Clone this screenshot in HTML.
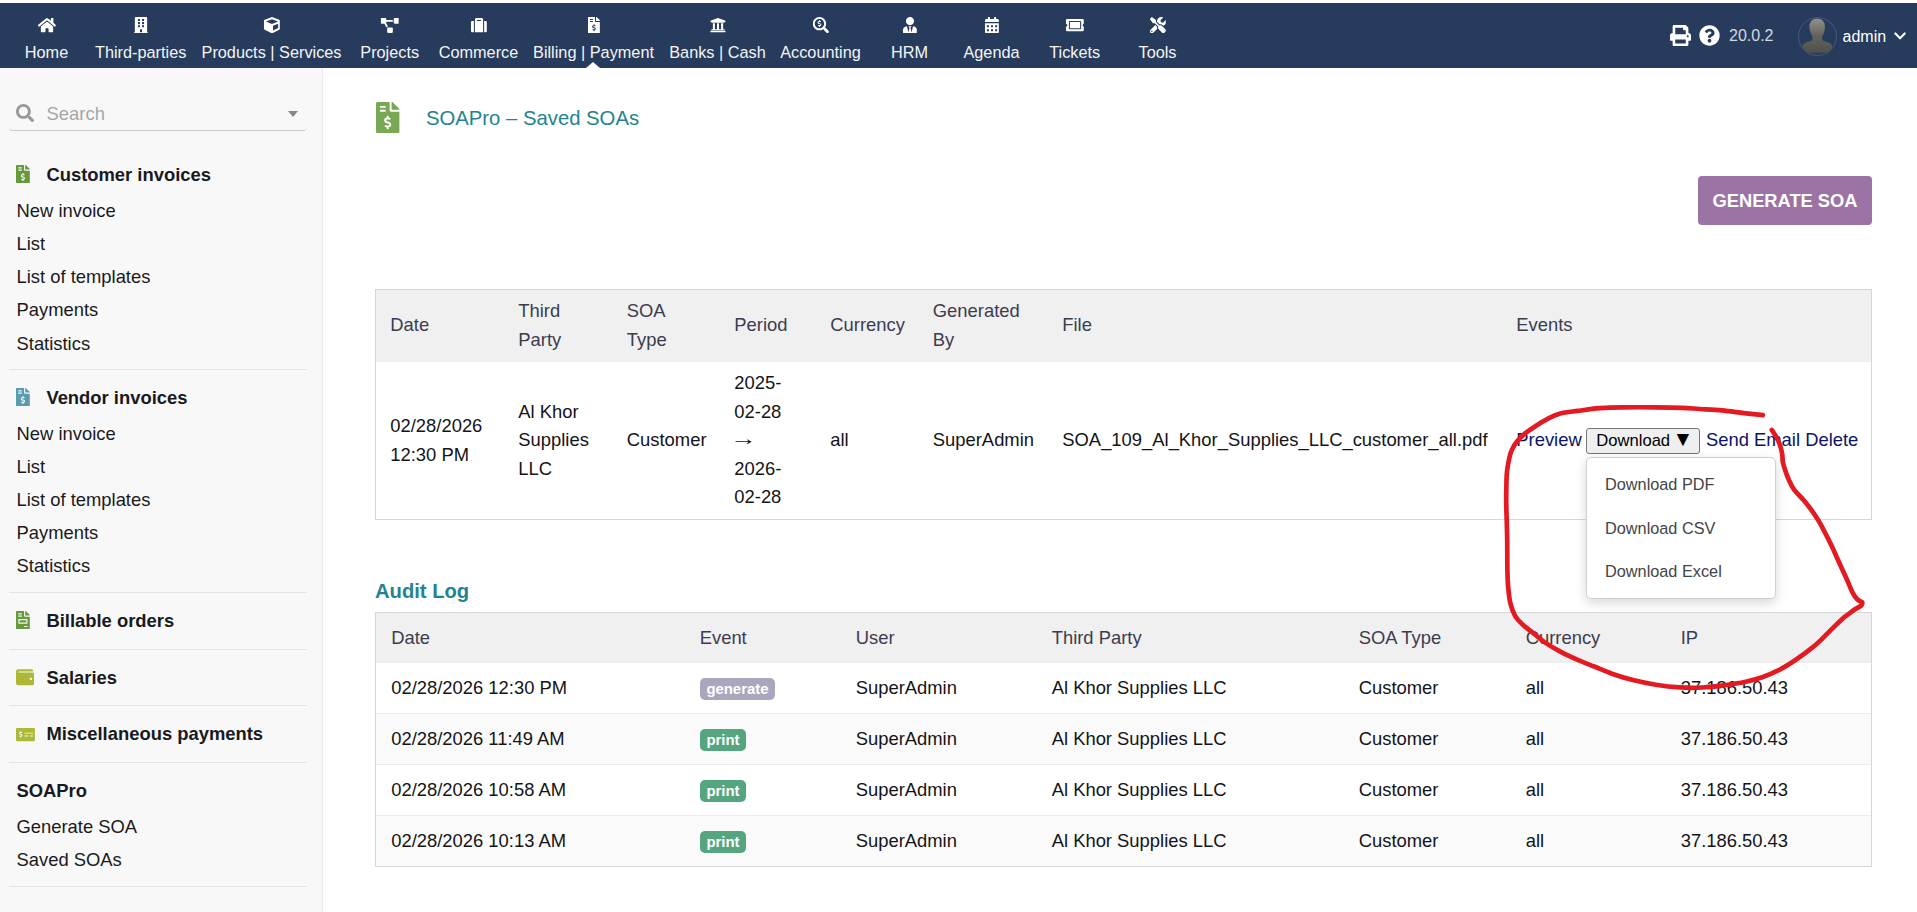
<!DOCTYPE html>
<html lang="en">
<head>
<meta charset="utf-8">
<title>SOAPro – Saved SOAs</title>
<style>
*{box-sizing:border-box}
html,body{margin:0;padding:0}
body{width:1917px;height:912px;overflow:hidden;background:#fff;font-family:"Liberation Sans","DejaVu Sans",sans-serif;font-size:18.4px;color:#1a1a1e;position:relative}
a{text-decoration:none;color:inherit}
/* top bar */
#topbar{position:absolute;left:0;top:3px;width:1917px;height:65px;background:#273b5c}
#topbar .tm{position:absolute;top:0;height:65px;text-align:center;color:#f4f5f7;font-size:16.3px;white-space:nowrap;transform:translateX(-50%)}
#topbar .tm svg{position:absolute;left:50%;top:13.8px;transform:translateX(-50%);fill:#fff}
#topbar .tm span{position:absolute;left:50%;transform:translateX(-50%);top:39px;line-height:20px;text-shadow:none}
#sel{position:absolute;left:586px;top:59px;width:0;height:0;border-left:7px solid transparent;border-right:7px solid transparent;border-bottom:6px solid #fff}
#ver{position:absolute;left:1729px;top:23px;font-size:16px;line-height:20px;color:#d5d9e0}
#avatar{position:absolute;left:1798px;top:14px;width:39px;height:39px}
#admin{position:absolute;left:1842.5px;top:23.7px;font-size:16px;line-height:20px;color:#fff}
/* sidebar */
#side{position:absolute;left:0;top:68px;width:323px;height:844px;background:#f8f8f8;border-right:1px solid #ececec}
#search{position:absolute;left:9px;top:28px;width:298px;height:35px;border-bottom:1px solid #c9c9c9;border-radius:0 0 4px 4px}
#search span{position:absolute;left:37.6px;top:7px;color:#a6a6a6;font-size:18.4px;line-height:22px}
#search i{position:absolute;right:9px;top:15px;border-left:5.5px solid transparent;border-right:5.5px solid transparent;border-top:6px solid #888}
.mt{position:absolute;left:46.4px;font-weight:700;font-size:18.4px;line-height:22px;white-space:nowrap;color:#1a1a1e}
.mi{position:absolute;left:16.5px;font-size:18.4px;line-height:22px;white-space:nowrap;color:#1a1a1c}
.sep{position:absolute;left:9px;width:298px;height:1px;background:#e4e4e4}
.ic{position:absolute}
/* main */
#title{position:absolute;left:426px;top:105px;font-size:20.3px;line-height:26px;color:#23838f;white-space:nowrap}
#gen{position:absolute;left:1698px;top:176px;width:174px;height:49px;background:#9b73a5;border-radius:4px;color:#fff;font-weight:700;font-size:18.3px;line-height:49px;text-align:center}
table{border-collapse:separate;border-spacing:0;table-layout:fixed;position:absolute;left:375px;width:1497px;font-size:18.4px;color:#141417}
table th{font-weight:400;text-align:left;background:#f0f0f0;color:#3c3c50}
table td,table th{padding:0 0 0 15.2px;vertical-align:middle;line-height:28.6px}
#t1{top:289px;border:1px solid #d6d6d6}
#t1 td,#t1 th{padding-left:14.3px}
#t1 th.s{padding-bottom:2px}
#t2{top:612px;border:1px solid #d6d6d6}
#t2 td{border-top:1px solid #ececec}
#t2 th{padding-top:1px}
#t2 td,#t2 th{padding-left:14.7px}
#t2 td:first-child,#t2 th:first-child{padding-left:15.2px}
#t2 tr:nth-child(odd) td{background:#fafafa}
#audit{position:absolute;left:375px;top:578px;font-size:20.2px;font-weight:700;line-height:26px;color:#23838f}
.bd{display:inline-block;font-size:14.9px;font-weight:700;color:#fff;border-radius:5px;padding:0 6.7px;line-height:22px;height:22px;vertical-align:middle}
.bg1{background:#a9a6bd}.bg2{background:#55a580}
.lnk{color:#0a1464}
.ar{display:inline-block;transform:translate(-4.3px,-1.1px) scaleX(1.46);transform-origin:0 50%}
#dlb{position:absolute;left:1586px;top:428px;width:114px;height:26px;border:1px solid #767676;border-radius:3px;background:#efefef;font-size:16.6px;line-height:23px;text-align:left;padding-left:9.3px;color:#000;white-space:nowrap}
#dlb span{position:absolute;left:85.6px;top:-1.7px;font-size:21px;line-height:23px}
#dd{position:absolute;left:1586px;top:457px;width:190px;height:142px;background:#fff;border:1px solid #d0d0d0;border-radius:5px;box-shadow:0 4px 12px rgba(0,0,0,.16)}
#dd a{position:absolute;left:18px;font-size:16.3px;color:#444;line-height:20px;white-space:nowrap}
#scr{position:absolute;left:0;top:0;width:1917px;height:912px;pointer-events:none}
</style>
</head>
<body>
<div id="topbar">
  <div class="tm" style="left:46.5px"><svg viewBox="0 0 576 512" width="18.45" height="16.4"><path d="M280.37 148.26L96 300.11V464a16 16 0 0 0 16 16l112.06-.29a16 16 0 0 0 15.92-16V368a16 16 0 0 1 16-16h64a16 16 0 0 1 16 16v95.64a16 16 0 0 0 16 16.05L464 480a16 16 0 0 0 16-16V300L295.67 148.26a12.19 12.19 0 0 0-15.3 0zM571.6 251.47L488 182.56V44.05a12 12 0 0 0-12-12h-56a12 12 0 0 0-12 12v72.61L318.47 43a48 48 0 0 0-61 0L4.34 251.47a12 12 0 0 0-1.6 16.9l25.5 31A12 12 0 0 0 45.15 301l235.22-193.74a12.19 12.19 0 0 1 15.3 0L530.9 301a12 12 0 0 0 16.9-1.6l25.5-31a12 12 0 0 0-1.7-16.93z"/></svg><span>Home</span></div>
  <div class="tm" style="left:140.7px"><svg viewBox="0 0 448 512" width="14.35" height="16.4"><path d="M436 480h-20V24c0-13.255-10.745-24-24-24H56C42.745 0 32 10.745 32 24v456H12c-6.627 0-12 5.373-12 12v20h448v-20c0-6.627-5.373-12-12-12zM128 76c0-6.627 5.373-12 12-12h40c6.627 0 12 5.373 12 12v40c0 6.627-5.373 12-12 12h-40c-6.627 0-12-5.373-12-12V76zm0 96c0-6.627 5.373-12 12-12h40c6.627 0 12 5.373 12 12v40c0 6.627-5.373 12-12 12h-40c-6.627 0-12-5.373-12-12v-40zm52 148h-40c-6.627 0-12-5.373-12-12v-40c0-6.627 5.373-12 12-12h40c6.627 0 12 5.373 12 12v40c0 6.627-5.373 12-12 12zm76 160h-64v-84c0-6.627 5.373-12 12-12h40c6.627 0 12 5.373 12 12v84zm64-172c0 6.627-5.373 12-12 12h-40c-6.627 0-12-5.373-12-12v-40c0-6.627 5.373-12 12-12h40c6.627 0 12 5.373 12 12v40zm0-96c0 6.627-5.373 12-12 12h-40c-6.627 0-12-5.373-12-12v-40c0-6.627 5.373-12 12-12h40c6.627 0 12 5.373 12 12v40zm0-96c0 6.627-5.373 12-12 12h-40c-6.627 0-12-5.373-12-12V76c0-6.627 5.373-12 12-12h40c6.627 0 12 5.373 12 12v40z"/></svg><span>Third-parties</span></div>
  <div class="tm" style="left:271.5px"><svg viewBox="0 0 512 512" width="16.4" height="16.4"><path d="M239.1 6.3l-208 78c-18.7 7-31.1 25-31.1 45v225.1c0 18.2 10.3 34.8 26.5 42.9l208 104c13.5 6.8 29.4 6.8 42.9 0l208-104c16.3-8.1 26.5-24.8 26.5-42.900V129.3c0-20-12.4-37.9-31.1-44.9l-208-78C262 2.2 250 2.2 239.1 6.3zM256 68.4l192 72v1.1l-192 78-192-78v-1.1l192-72zm32 356V275.5l160-65v133.9l-160 80z"/></svg><span>Products | Services</span></div>
  <div class="tm" style="left:389.7px"><svg viewBox="0 0 640 512" width="18.75" height="15" style="top:15.2px"><path d="M384 320H256c-17.67 0-32 14.33-32 32v128c0 17.67 14.33 32 32 32h128c17.67 0 32-14.33 32-32V352c0-17.67-14.33-32-32-32zM192 32c0-17.67-14.33-32-32-32H32C14.33 0 0 14.33 0 32v128c0 17.67 14.33 32 32 32h95.72l73.16 128.04C211.98 300.98 232.4 288 256 288h.28L192 175.51V128h224V64H192V32zM608 0H480c-17.67 0-32 14.33-32 32v128c0 17.67 14.33 32 32 32h128c17.67 0 32-14.33 32-32V32c0-17.67-14.33-32-32-32z"/></svg><span>Projects</span></div>
  <div class="tm" style="left:478.5px"><svg viewBox="0 0 512 512" width="16.4" height="16.4"><path d="M128 480h256V80c0-26.5-21.5-48-48-48H176c-26.5 0-48 21.5-48 48v400zm64-384h128v32H192V96zm320 80v256c0 26.5-21.5 48-48 48h-48V128h48c26.5 0 48 21.5 48 48zM96 480H48c-26.5 0-48-21.5-48-48V176c0-26.5 21.5-48 48-48h48v352z"/></svg><span>Commerce</span></div>
  <div class="tm" style="left:593.5px"><svg viewBox="0 0 384 512" width="12.3" height="16.4"><path d="M377 105L279.1 7c-4.5-4.5-10.6-7-17-7H256v128h128v-6.1c0-6.3-2.5-12.4-7-16.9zm-153 31V0H24C10.7 0 0 10.7 0 24v464c0 13.3 10.7 24 24 24h336c13.3 0 24-10.7 24-24V160H248c-13.2 0-24-10.8-24-24zM64 72c0-4.42 3.58-8 8-8h80c4.42 0 8 3.58 8 8v16c0 4.42-3.58 8-8 8H72c-4.42 0-8-3.58-8-8V72zm0 80v-16c0-4.42 3.58-8 8-8h80c4.42 0 8 3.58 8 8v16c0 4.42-3.58 8-8 8H72c-4.42 0-8-3.58-8-8zm144 263.88V440c0 4.42-3.58 8-8 8h-16c-4.42 0-8-3.58-8-8v-24.29c-11.29-.58-22.27-4.52-31.37-11.35-3.9-2.93-4.1-8.77-.57-12.14l11.75-11.21c2.77-2.64 6.89-2.76 10.13-.73 3.87 2.42 8.26 3.72 12.82 3.72h28.11c6.5 0 11.8-5.92 11.8-13.19 0-5.95-3.61-11.19-8.77-12.73l-45-13.5c-18.59-5.58-31.58-23.42-31.58-43.39 0-24.52 19.05-44.44 42.67-45.07V232c0-4.42 3.58-8 8-8h16c4.42 0 8 3.58 8 8v24.29c11.29.58 22.27 4.51 31.37 11.35 3.9 2.93 4.1 8.77.57 12.14l-11.75 11.21c-2.77 2.64-6.89 2.76-10.13.73-3.87-2.43-8.26-3.72-12.82-3.72h-28.11c-6.5 0-11.8 5.92-11.8 13.19 0 5.95 3.61 11.19 8.77 12.73l45 13.5c18.59 5.58 31.58 23.42 31.58 43.39 0 24.53-19.05 44.44-42.67 45.070z"/></svg><span>Billing | Payment</span></div>
  <div class="tm" style="left:717.5px"><svg viewBox="0 0 512 512" width="16.4" height="16.4"><path d="M496 128v16a8 8 0 0 1-8 8h-24v12c0 6.627-5.373 12-12 12H60c-6.627 0-12-5.373-12-12v-12H24a8 8 0 0 1-8-8v-16a8 8 0 0 1 4.941-7.392l232-88a7.996 7.996 0 0 1 6.118 0l232 88A8 8 0 0 1 496 128zm-24 304H40c-13.255 0-24 10.745-24 24v16a8 8 0 0 0 8 8h464a8 8 0 0 0 8-8v-16c0-13.255-10.745-24-24-24zM96 192v192H60c-6.627 0-12 5.373-12 12v20h416v-20c0-6.627-5.373-12-12-12h-36V192h-64v192h-64V192h-64v192h-64V192H96z"/></svg><span>Banks | Cash</span></div>
  <div class="tm" style="left:820.5px"><svg viewBox="0 0 512 512" width="16.4" height="16.4"><path d="M505.04 442.66l-99.71-99.69c-4.5-4.5-10.6-7-17-7h-16.3c27.6-35.3 44-79.69 44-127.99C416.03 93.09 322.92 0 208.02 0S0 93.09 0 207.98s93.11 207.98 208.02 207.98c48.3 0 92.71-16.4 128.01-44v16.3c0 6.4 2.5 12.5 7 17l99.71 99.69c9.4 9.4 24.6 9.4 33.9 0l28.3-28.3c9.4-9.4 9.4-24.59.1-33.99zm-297.02-90.7c-79.54 0-144-64.34-144-143.98 0-79.53 64.35-143.98 144-143.98 79.54 0 144 64.34 144 143.98 0 79.53-64.35 143.98-144 143.98zm27.11-152.54l-45.01-13.5c-5.16-1.55-8.77-6.78-8.77-12.73 0-7.27 5.3-13.19 11.8-13.19h28.11c4.56 0 8.96 1.29 12.82 3.72 3.24 2.03 7.36 1.91 10.13-.73l11.75-11.21c3.53-3.37 3.33-9.21-.57-12.14-9.1-6.83-20.08-10.77-31.37-11.35V112c0-4.42-3.58-8-8-8h-16c-4.42 0-8 3.58-8 8v16.12c-23.63.63-42.68 20.55-42.68 45.07 0 19.97 12.99 37.81 31.58 43.39l45.01 13.5c5.16 1.55 8.77 6.78 8.77 12.73 0 7.27-5.3 13.19-11.8 13.19h-28.1c-4.56 0-8.96-1.29-12.82-3.72-3.24-2.03-7.36-1.91-10.13.73l-11.75 11.21c-3.53 3.37-3.33 9.21.57 12.14 9.1 6.83 20.08 10.77 31.37 11.35V304c0 4.42 3.58 8 8 8h16c4.42 0 8-3.58 8-8v-16.12c23.63-.63 42.68-20.54 42.68-45.07 0-19.970-12.990-37.810-31.590-43.390z"/></svg><span>Accounting</span></div>
  <div class="tm" style="left:909.5px"><svg viewBox="0 0 448 512" width="14.35" height="16.4"><path d="M224 256c70.7 0 128-57.3 128-128S294.7 0 224 0 96 57.3 96 128s57.3 128 128 128zm95.8 32.6L272 480l-32-136 32-56h-96l32 56-32 136-47.8-191.400C56.9 292 0 350.3 0 422.400V464c0 26.5 21.5 48 48 48h352c26.5 0 48-21.5 48-48v-41.600c0-72.1-56.9-130.4-128.2-133.800z"/></svg><span>HRM</span></div>
  <div class="tm" style="left:991.5px"><svg viewBox="0 0 448 512" width="14.35" height="16.4"><path d="M0 464c0 26.5 21.5 48 48 48h352c26.5 0 48-21.5 48-48V192H0v272zm320-196c0-6.6 5.4-12 12-12h40c6.600 0 12 5.4 12 12v40c0 6.600-5.400 12-12 12h-40c-6.600 0-12-5.400-12-12v-40zm0 128c0-6.600 5.400-12 12-12h40c6.600 0 12 5.400 12 12v40c0 6.600-5.400 12-12 12h-40c-6.600 0-12-5.400-12-12v-40zM192 268c0-6.600 5.400-12 12-12h40c6.600 0 12 5.400 12 12v40c0 6.600-5.400 12-12 12h-40c-6.600 0-12-5.400-12-12v-40zm0 128c0-6.600 5.400-12 12-12h40c6.600 0 12 5.400 12 12v40c0 6.600-5.400 12-12 12h-40c-6.600 0-12-5.400-12-12v-40zM64 268c0-6.600 5.400-12 12-12h40c6.600 0 12 5.400 12 12v40c0 6.600-5.400 12-12 12H76c-6.600 0-12-5.400-12-12v-40zm0 128c0-6.600 5.400-12 12-12h40c6.600 0 12 5.400 12 12v40c0 6.600-5.400 12-12 12H76c-6.600 0-12-5.400-12-12v-40zM400 64h-48V16c0-8.800-7.200-16-16-16h-32c-8.800 0-16 7.200-16 16v48H160V16c0-8.800-7.200-16-16-16h-32c-8.800 0-16 7.200-16 16v48H48C21.5 64 0 85.500 0 112v48h448v-48c0-26.500-21.500-48-48-48z"/></svg><span>Agenda</span></div>
  <div class="tm" style="left:1074.7px"><svg viewBox="0 0 576 512" width="18.45" height="16.4"><path d="M128 160h320v192H128V160zm400 96c0 26.51 21.49 48 48 48v96c0 26.51-21.49 48-48 48H48c-26.51 0-48-21.49-48-48v-96c26.51 0 48-21.49 48-48s-21.49-48-48-48v-96c0-26.51 21.49-48 48-48h480c26.51 0 48 21.49 48 48v96c-26.51 0-48 21.49-48 48zm-48-104c0-13.255-10.745-24-24-24H120c-13.255 0-24 10.745-24 24v208c0 13.255 10.745 24 24 24h336c13.255 0 24-10.745 24-24V152z"/></svg><span>Tickets</span></div>
  <div class="tm" style="left:1157.5px"><svg viewBox="0 0 512 512" width="16.4" height="16.4"><path d="M501.1 395.7L384 278.6c-23.1-23.1-57.6-27.6-85.4-13.9L192 158.1V96L64 0 0 64l96 128h62.1l106.6 106.6c-13.6 27.8-9.2 62.3 13.9 85.4l117.1 117.1c14.6 14.6 38.2 14.6 52.7 0l52.7-52.7c14.5-14.6 14.5-38.2 0-52.7zM331.7 225c28.3 0 54.9 11 74.9 31l19.4 19.4c15.8-6.9 30.8-16.5 43.8-29.5 37.1-37.1 49.7-89.3 37.9-136.7-2.2-9-13.5-12.1-20.1-5.5l-74.4 74.4-67.9-11.3L334 98.9l74.4-74.4c6.6-6.600 3.400-17.900-5.700-20.200-47.400-11.700-99.600.9-136.600 37.900-28.500 28.500-41.900 66.100-41.200 103.600l82.100 82.100c8.100-1.900 16.500-2.900 24.700-2.900zm-103.9 82l-56.700-56.700L18.7 402.800c-25 25-25 65.500 0 90.500s65.500 25 90.500 0l123.600-123.600c-7.600-19.900-9.900-41.600-5-62.700zM64 472c-13.200 0-24-10.800-24-24 0-13.300 10.700-24 24-24s24 10.700 24 24c0 13.200-10.700 24-24 24z"/></svg><span>Tools</span></div>
  <div id="sel"></div>
  <svg class="ic" viewBox="0 0 512 512" width="21.0" height="21" style="left:1670.1px;top:22.1px" fill="#fff"><path d="M448 192V77.25c0-8.49-3.37-16.62-9.37-22.63L393.37 9.37c-6-6-14.14-9.37-22.63-9.37H96C78.33 0 64 14.33 64 32v160c-35.35 0-64 28.65-64 64v112c0 8.84 7.16 16 16 16h48v96c0 17.67 14.33 32 32 32h320c17.67 0 32-14.33 32-32v-96h48c8.84 0 16-7.16 16-16V256c0-35.35-28.65-64-64-64zm-64 256H128v-96h256v96zm0-224H128V64h192v48c0 8.84 7.16 16 16 16h48v96zm48 72c-13.25 0-24-10.75-24-24 0-13.26 10.75-24 24-24s24 10.74 24 24c0 13.25-10.75 24-24 24z"/></svg>
  <svg class="ic" viewBox="0 0 512 512" width="21.0" height="21" style="left:1699px;top:22px" fill="#fff"><path d="M504 256c0 136.997-111.043 248-248 248S8 392.997 8 256C8 119.083 119.043 8 256 8s248 111.083 248 248zM262.655 90c-54.497 0-89.255 22.957-116.549 63.758-3.536 5.286-2.353 12.415 2.715 16.258l34.699 26.310c5.205 3.947 12.621 3.008 16.665-2.122 17.864-22.658 30.113-35.797 57.303-35.797 20.429 0 45.698 13.148 45.698 32.958 0 14.976-12.363 22.667-32.534 33.976C247.128 238.528 216 254.941 216 296v4c0 6.627 5.373 12 12 12h56c6.627 0 12-5.373 12-12v-1.333c0-28.462 83.186-29.647 83.186-106.667 0-58.002-60.165-102-116.531-102zM256 338c-25.365 0-46 20.635-46 46 0 25.364 20.635 46 46 46s46-20.636 46-46c0-25.365-20.635-46-46-46z"/></svg>
  <div id="ver">20.0.2</div>
  <div id="avatar"><svg viewBox="0 0 39 39" width="39" height="39"><defs><linearGradient id="ag" x1="0" y1="0" x2="0" y2="1"><stop offset="0" stop-color="#92928c"/><stop offset=".5" stop-color="#63635e"/><stop offset="1" stop-color="#51514c"/></linearGradient><clipPath id="ac"><circle cx="19.500" cy="19.500" r="18.500"/></clipPath></defs><path clip-path="url(#ac)" d="M19.200 1.600C14.500 1.600 11.400 5 11.400 9.500c0 2.500.6 4 1.200 5.500.4 2 1.400 3.500 1.900 4.500V22c0 1.500-1.500 2.300-4 2.800-3.500.7-6 2.200-6 5.200 0 2.500 1.500 4.500 5.100 5.800H29c3.500-1.300 5.300-3.300 5.300-5.800 0-3-2.800-4.500-6.300-5.200-2.500-.5-3.800-1.300-3.800-2.800v-2.500c.5-1 1.500-2.500 1.900-4.500.6-1.500.8-3 .8-5.500 0-4.500-2.900-7.900-7.700-7.900z" fill="url(#ag)"/><circle cx="19.500" cy="19.500" r="19" fill="none" stroke="#4b5f80" stroke-width=".9"/></svg></div>
  <div id="admin">admin</div>
  <svg class="ic" viewBox="0 0 448 512" width="12.1" height="13.8" style="left:1893.9px;top:26.3px" fill="#fff"><path d="M207.029 381.476L12.686 187.132c-9.373-9.373-9.373-24.569 0-33.941l22.667-22.667c9.357-9.357 24.522-9.375 33.901-.04L224 284.505l154.745-154.021c9.379-9.335 24.544-9.317 33.901.04l22.667 22.667c9.373 9.373 9.373 24.569 0 33.941L240.971 381.476c-9.373 9.372-24.569 9.372-33.942 0z"/></svg>
</div>
<div id="side">
  <div id="search"><span>Search</span><i></i></div>
  <svg class="ic" viewBox="0 0 512 512" width="18.2" height="18.2" style="left:16px;top:35.8px" fill="#999"><path d="M505 442.7L405.3 343c-4.5-4.5-10.6-7-17-7H372c27.6-35.3 44-79.7 44-128C416 93.1 322.9 0 208 0S0 93.1 0 208s93.1 208 208 208c48.3 0 92.7-16.4 128-44v16.3c0 6.4 2.5 12.5 7 17l99.7 99.7c9.4 9.4 24.6 9.4 33.9 0l28.3-28.3c9.4-9.4 9.4-24.6.1-34zM208 336c-70.7 0-128-57.2-128-128 0-70.7 57.2-128 128-128 70.700 0 128 57.2 128 128 0 70.700-57.200 128-128 128z"/></svg>
  <svg class="ic" viewBox="0 0 384 512" width="13.8" height="18.4" style="left:16.3px;top:97px" fill="#67993d"><path d="M377 105L279.1 7c-4.5-4.5-10.6-7-17-7H256v128h128v-6.1c0-6.3-2.5-12.4-7-16.9zm-153 31V0H24C10.7 0 0 10.7 0 24v464c0 13.3 10.7 24 24 24h336c13.3 0 24-10.7 24-24V160H248c-13.2 0-24-10.8-24-24zM64 72c0-4.42 3.58-8 8-8h80c4.42 0 8 3.58 8 8v16c0 4.42-3.58 8-8 8H72c-4.42 0-8-3.58-8-8V72zm0 80v-16c0-4.42 3.58-8 8-8h80c4.42 0 8 3.58 8 8v16c0 4.42-3.58 8-8 8H72c-4.42 0-8-3.58-8-8zm144 263.88V440c0 4.42-3.58 8-8 8h-16c-4.42 0-8-3.58-8-8v-24.29c-11.29-.58-22.27-4.52-31.37-11.35-3.9-2.93-4.1-8.77-.57-12.14l11.75-11.21c2.77-2.64 6.89-2.76 10.13-.73 3.87 2.42 8.26 3.72 12.82 3.72h28.11c6.5 0 11.8-5.92 11.8-13.19 0-5.95-3.61-11.19-8.77-12.73l-45-13.5c-18.59-5.58-31.58-23.42-31.58-43.39 0-24.52 19.05-44.44 42.67-45.07V232c0-4.42 3.58-8 8-8h16c4.42 0 8 3.58 8 8v24.29c11.29.58 22.27 4.51 31.37 11.35 3.9 2.93 4.1 8.77.57 12.14l-11.75 11.21c-2.77 2.64-6.89 2.76-10.13.73-3.87-2.43-8.26-3.72-12.82-3.72h-28.11c-6.5 0-11.8 5.92-11.8 13.19 0 5.95 3.61 11.19 8.77 12.73l45 13.5c18.59 5.58 31.58 23.42 31.58 43.39 0 24.53-19.05 44.44-42.67 45.070z"/></svg>
  <svg class="ic" viewBox="0 0 384 512" width="13.8" height="18.4" style="left:16.3px;top:320px" fill="#599caf"><path d="M377 105L279.1 7c-4.5-4.5-10.6-7-17-7H256v128h128v-6.1c0-6.3-2.5-12.4-7-16.9zm-153 31V0H24C10.7 0 0 10.7 0 24v464c0 13.3 10.7 24 24 24h336c13.3 0 24-10.7 24-24V160H248c-13.2 0-24-10.8-24-24zM64 72c0-4.42 3.58-8 8-8h80c4.42 0 8 3.58 8 8v16c0 4.42-3.58 8-8 8H72c-4.42 0-8-3.58-8-8V72zm0 80v-16c0-4.42 3.58-8 8-8h80c4.42 0 8 3.58 8 8v16c0 4.42-3.58 8-8 8H72c-4.42 0-8-3.58-8-8zm144 263.88V440c0 4.42-3.58 8-8 8h-16c-4.42 0-8-3.58-8-8v-24.29c-11.29-.58-22.27-4.52-31.37-11.35-3.9-2.93-4.1-8.77-.57-12.14l11.75-11.21c2.77-2.64 6.89-2.76 10.13-.73 3.87 2.42 8.26 3.72 12.82 3.72h28.11c6.5 0 11.8-5.92 11.8-13.19 0-5.95-3.61-11.19-8.77-12.73l-45-13.5c-18.59-5.58-31.58-23.42-31.58-43.39 0-24.52 19.05-44.44 42.67-45.07V232c0-4.42 3.58-8 8-8h16c4.42 0 8 3.58 8 8v24.29c11.29.58 22.27 4.51 31.37 11.35 3.9 2.93 4.1 8.77.57 12.14l-11.75 11.21c-2.77 2.64-6.89 2.76-10.13.73-3.87-2.43-8.26-3.72-12.82-3.72h-28.11c-6.5 0-11.8 5.92-11.8 13.19 0 5.95 3.61 11.19 8.77 12.73l45 13.5c18.59 5.58 31.58 23.42 31.58 43.39 0 24.53-19.05 44.44-42.67 45.070z"/></svg>
  <svg class="ic" viewBox="0 0 384 512" width="13.8" height="18.4" style="left:16.3px;top:543px" fill="#67993d"><path d="M288 256H96v64h192v-64zm89-151L279.1 7c-4.5-4.5-10.6-7-17-7H256v128h128v-6.1c0-6.3-2.5-12.4-7-16.9zm-153 31V0H24C10.7 0 0 10.7 0 24v464c0 13.3 10.7 24 24 24h336c13.3 0 24-10.7 24-24V160H248c-13.2 0-24-10.8-24-24zM64 72c0-4.42 3.58-8 8-8h80c4.42 0 8 3.58 8 8v16c0 4.42-3.58 8-8 8H72c-4.42 0-8-3.58-8-8V72zm0 64c0-4.42 3.58-8 8-8h80c4.42 0 8 3.58 8 8v16c0 4.42-3.58 8-8 8H72c-4.42 0-8-3.58-8-8v-16zm256 304c0 4.42-3.58 8-8 8h-80c-4.42 0-8-3.58-8-8v-16c0-4.42 3.58-8 8-8h80c4.42 0 8 3.58 8 8v16zm0-200v96c0 8.84-7.16 16-16 16H80c-8.84 0-16-7.16-16-16v-96c0-8.84 7.16-16 16-16h224c8.84 0 16 7.16 16 16z"/></svg>
  <svg class="ic" viewBox="0 0 512 512" width="18.4" height="18.4" style="left:15.8px;top:600px" fill="#adb836"><path d="M461.2 128H80c-8.84 0-16-7.16-16-16s7.16-16 16-16h384c8.84 0 16-7.16 16-16 0-26.51-21.49-48-48-48H64C28.65 32 0 60.65 0 96v320c0 35.35 28.65 64 64 64h397.2c28.02 0 50.8-21.53 50.8-48V176c0-26.47-22.78-48-50.8-48zM416 336c-17.67 0-32-14.33-32-32s14.33-32 32-32 32 14.33 32 32-14.33 32-32 32z"/></svg>
  <svg class="ic" viewBox="0 0 640 512" width="18.9" height="15.1" style="left:16.1px;top:658.8px" fill="#adb836"><path d="M608 32H32C14.33 32 0 46.33 0 64v384c0 17.67 14.33 32 32 32h576c17.67 0 32-14.33 32-32V64c0-17.67-14.33-32-32-32zM176 327.88V344c0 4.42-3.58 8-8 8h-16c-4.42 0-8-3.58-8-8v-16.29c-11.29-.58-22.27-4.52-31.37-11.35-3.9-2.93-4.1-8.77-.57-12.14l11.75-11.21c2.77-2.64 6.89-2.76 10.13-.73 3.87 2.42 8.26 3.72 12.82 3.72h28.11c6.5 0 11.8-5.92 11.8-13.19 0-5.95-3.61-11.19-8.77-12.73l-45-13.5c-18.59-5.58-31.58-23.42-31.58-43.39 0-24.52 19.05-44.44 42.67-45.07V152c0-4.42 3.58-8 8-8h16c4.42 0 8 3.58 8 8v16.29c11.29.58 22.27 4.51 31.37 11.35 3.9 2.93 4.1 8.77.57 12.14l-11.75 11.21c-2.77 2.64-6.89 2.76-10.13.73-3.87-2.43-8.26-3.72-12.82-3.72h-28.11c-6.5 0-11.8 5.92-11.8 13.19 0 5.95 3.61 11.19 8.77 12.73l45 13.5c18.59 5.58 31.58 23.42 31.58 43.39 0 24.53-19.04 44.44-42.67 45.07zM416 312c0 4.42-3.58 8-8 8H296c-4.42 0-8-3.58-8-8v-16c0-4.42 3.58-8 8-8h112c4.42 0 8 3.58 8 8v16zm160 0c0 4.42-3.58 8-8 8h-80c-4.42 0-8-3.58-8-8v-16c0-4.42 3.58-8 8-8h80c4.42 0 8 3.58 8 8v16zm0-96c0 4.42-3.58 8-8 8H296c-4.42 0-8-3.58-8-8v-16c0-4.42 3.58-8 8-8h272c4.420 0 8 3.58 8 8v16z"/></svg>
  <div class="mt" style="top:96px">Customer invoices</div>
  <div class="mi" style="top:132px">New invoice</div>
  <div class="mi" style="top:165px">List</div>
  <div class="mi" style="top:198px">List of templates</div>
  <div class="mi" style="top:231px">Payments</div>
  <div class="mi" style="top:265px">Statistics</div>
  <div class="sep" style="top:301px"></div>
  <div class="mt" style="top:319px">Vendor invoices</div>
  <div class="mi" style="top:355px">New invoice</div>
  <div class="mi" style="top:388px">List</div>
  <div class="mi" style="top:421px">List of templates</div>
  <div class="mi" style="top:454px">Payments</div>
  <div class="mi" style="top:487px">Statistics</div>
  <div class="sep" style="top:524px"></div>
  <div class="mt" style="top:542px">Billable orders</div>
  <div class="sep" style="top:581px"></div>
  <div class="mt" style="top:599px">Salaries</div>
  <div class="sep" style="top:637px"></div>
  <div class="mt" style="top:655px">Miscellaneous payments</div>
  <div class="sep" style="top:694px"></div>
  <div class="mt" style="left:16.5px;top:712px">SOAPro</div>
  <div class="mi" style="top:748px">Generate SOA</div>
  <div class="mi" style="top:781px">Saved SOAs</div>
  <div class="sep" style="top:818px"></div>
</div>
<div id="main">
  <svg class="ic" viewBox="0 0 384 512" width="23.4" height="31.2" style="left:376.2px;top:101.6px" fill="#79a855"><path d="M377 105L279.1 7c-4.5-4.5-10.6-7-17-7H256v128h128v-6.1c0-6.3-2.5-12.4-7-16.9zm-153 31V0H24C10.7 0 0 10.7 0 24v464c0 13.3 10.7 24 24 24h336c13.3 0 24-10.7 24-24V160H248c-13.2 0-24-10.8-24-24zM64 72c0-4.42 3.58-8 8-8h80c4.42 0 8 3.58 8 8v16c0 4.42-3.58 8-8 8H72c-4.42 0-8-3.58-8-8V72zm0 80v-16c0-4.42 3.58-8 8-8h80c4.42 0 8 3.58 8 8v16c0 4.42-3.58 8-8 8H72c-4.42 0-8-3.58-8-8zm144 263.88V440c0 4.42-3.58 8-8 8h-16c-4.42 0-8-3.58-8-8v-24.29c-11.29-.58-22.27-4.52-31.37-11.35-3.9-2.93-4.1-8.77-.57-12.14l11.75-11.21c2.77-2.64 6.89-2.76 10.13-.73 3.87 2.42 8.26 3.72 12.82 3.72h28.11c6.5 0 11.8-5.92 11.8-13.19 0-5.95-3.61-11.19-8.77-12.73l-45-13.5c-18.59-5.58-31.58-23.42-31.58-43.39 0-24.52 19.05-44.44 42.67-45.07V232c0-4.42 3.58-8 8-8h16c4.42 0 8 3.58 8 8v24.29c11.29.58 22.27 4.51 31.37 11.35 3.9 2.93 4.1 8.77.57 12.14l-11.75 11.21c-2.77 2.64-6.89 2.76-10.13.73-3.87-2.43-8.26-3.72-12.82-3.72h-28.11c-6.5 0-11.8 5.92-11.8 13.19 0 5.95 3.61 11.19 8.77 12.73l45 13.5c18.59 5.58 31.58 23.42 31.58 43.39 0 24.53-19.05 44.44-42.67 45.070z"/></svg>
  <div id="title">SOAPro – Saved SOAs</div>
  <a id="gen">GENERATE SOA</a>
  <table id="t1">
    <tr style="height:72px"><th style="width:128px" class="s">Date</th><th style="width:108.5px">Third<br>Party</th><th style="width:107.5px">SOA<br>Type</th><th style="width:96px" class="s">Period</th><th style="width:102.5px" class="s">Currency</th><th style="width:129.5px">Generated<br>By</th><th style="width:454px" class="s">File</th><th class="s">Events</th></tr>
    <tr style="height:157px"><td>02/28/2026<br>12:30 PM</td><td>Al Khor<br>Supplies<br>LLC</td><td>Customer</td><td>2025-<br>02-28<br><span class="ar">→</span><br>2026-<br>02-28</td><td>all</td><td>SuperAdmin</td><td>SOA_109_Al_Khor_Supplies_LLC_customer_all.pdf</td><td><a class="lnk">Preview</a> <span style="display:inline-block;width:114px"></span> <a class="lnk">Send Email</a> <a class="lnk">Delete</a></td></tr>
  </table>
  <div id="dlb">Download <span>▼</span></div>
  <div id="dd"><a style="top:16px">Download PDF</a><a style="top:60px">Download CSV</a><a style="top:103px">Download Excel</a></div>
  <div id="audit">Audit Log</div>
  <table id="t2">
    <tr style="height:49px"><th style="width:309px">Date</th><th style="width:156px">Event</th><th style="width:196px">User</th><th style="width:307px">Third Party</th><th style="width:167px">SOA Type</th><th style="width:155px">Currency</th><th>IP</th></tr>
    <tr style="height:51px"><td>02/28/2026 12:30 PM</td><td><span class="bd bg1">generate</span></td><td>SuperAdmin</td><td>Al Khor Supplies LLC</td><td>Customer</td><td>all</td><td>37.186.50.43</td></tr>
    <tr style="height:51px"><td>02/28/2026 11:49 AM</td><td><span class="bd bg2">print</span></td><td>SuperAdmin</td><td>Al Khor Supplies LLC</td><td>Customer</td><td>all</td><td>37.186.50.43</td></tr>
    <tr style="height:51px"><td>02/28/2026 10:58 AM</td><td><span class="bd bg2">print</span></td><td>SuperAdmin</td><td>Al Khor Supplies LLC</td><td>Customer</td><td>all</td><td>37.186.50.43</td></tr>
    <tr style="height:51px"><td>02/28/2026 10:13 AM</td><td><span class="bd bg2">print</span></td><td>SuperAdmin</td><td>Al Khor Supplies LLC</td><td>Customer</td><td>all</td><td>37.186.50.43</td></tr>
  </table>
</div>
<svg id="scr" viewBox="0 0 1917 912" width="1917" height="912"><path d="M1771.8 429.9C1772.6 431.2 1775.4 435.2 1776.8 437.8C1778.2 440.4 1779.2 442.7 1780.1 445.4C1781.0 448.1 1781.8 451.4 1782.2 454.2C1782.7 456.9 1782.3 459.3 1782.8 461.9C1783.3 464.5 1784.0 466.6 1785.0 469.6C1786.0 472.6 1787.2 476.3 1788.8 479.7C1790.3 483.1 1791.7 486.4 1794.3 489.9C1796.9 493.4 1801.3 497.3 1804.2 500.8C1807.1 504.3 1809.5 507.4 1811.9 510.7C1814.3 514.0 1816.2 517.0 1818.4 520.6C1820.6 524.2 1822.8 528.4 1825.0 532.6C1827.2 536.8 1829.4 541.2 1831.6 545.8C1833.8 550.4 1835.5 554.5 1838.0 560.0C1840.5 565.5 1844.2 573.5 1846.5 578.6C1848.8 583.8 1850.3 587.8 1851.8 590.9C1853.3 594.0 1854.1 595.4 1855.3 597.0C1856.5 598.6 1857.6 599.6 1858.8 600.5C1860.0 601.4 1861.7 602.0 1862.3 602.3C1862.2 602.8 1862.6 604.3 1861.4 605.4C1860.2 606.5 1857.5 607.6 1855.4 609.0C1853.4 610.4 1850.9 612.4 1849.1 613.7C1847.3 615.0 1847.1 614.7 1844.5 617.0C1841.9 619.3 1837.2 623.8 1833.5 627.4C1829.8 631.0 1826.2 634.9 1822.6 638.4C1818.9 641.9 1816.2 644.6 1811.6 648.2C1807.0 651.9 1800.6 656.6 1795.1 660.3C1789.6 664.0 1784.2 667.4 1778.7 670.2C1773.2 673.0 1767.7 675.4 1762.2 677.3C1756.7 679.2 1752.2 680.4 1745.8 681.7C1739.4 683.0 1731.2 684.3 1723.9 685.3C1716.6 686.3 1709.2 687.1 1701.9 687.5C1694.6 687.9 1687.7 687.9 1680.0 687.4C1672.3 686.9 1663.5 685.9 1655.8 684.7C1648.1 683.5 1641.2 682.1 1633.9 680.3C1626.6 678.5 1618.5 676.0 1611.9 673.7C1605.3 671.4 1599.9 668.8 1594.2 666.5C1588.5 664.2 1583.2 662.3 1577.7 659.9C1572.2 657.5 1566.8 655.1 1561.3 652.2C1555.8 649.3 1549.4 645.5 1544.8 642.4C1540.2 639.3 1537.6 636.5 1533.9 633.6C1530.2 630.7 1526.0 627.7 1522.9 624.8C1519.8 621.9 1517.3 619.8 1515.2 616.1C1513.1 612.5 1511.5 607.9 1510.3 602.9C1509.1 597.9 1508.6 591.9 1508.1 586.4C1507.6 580.9 1507.5 574.4 1507.4 570.0C1507.3 565.6 1507.3 565.0 1507.3 560.0C1507.3 555.0 1507.3 546.7 1507.2 540.0C1507.1 533.3 1506.9 526.7 1506.7 520.0C1506.5 513.3 1506.2 505.8 1506.2 500.0C1506.2 494.2 1506.3 489.7 1506.4 485.0C1506.5 480.3 1506.5 476.2 1507.0 471.8C1507.5 467.4 1508.4 462.3 1509.2 458.6C1510.0 454.9 1510.5 452.7 1511.9 449.8C1513.3 446.9 1515.2 443.8 1517.4 441.1C1519.6 438.4 1522.0 436.0 1525.1 433.4C1528.2 430.8 1532.3 428.2 1536.1 425.7C1539.9 423.2 1544.1 420.6 1548.1 418.6C1552.1 416.6 1555.3 414.9 1560.2 413.6C1565.1 412.3 1571.1 411.8 1577.7 410.9C1584.3 410.0 1592.4 408.8 1599.7 408.2C1607.0 407.6 1612.5 407.4 1621.6 407.3C1630.7 407.2 1644.5 407.2 1654.5 407.3C1664.5 407.4 1674.3 407.5 1681.9 407.8C1689.5 408.1 1693.3 408.6 1700.0 409.0C1706.7 409.4 1714.6 409.7 1721.9 410.4C1729.2 411.1 1737.1 412.3 1743.9 413.1C1750.8 413.9 1759.8 414.8 1763.0 415.1" fill="none" stroke="#e31a22" stroke-width="4.7" stroke-linecap="round" stroke-linejoin="round"/></svg>
</body>
</html>
